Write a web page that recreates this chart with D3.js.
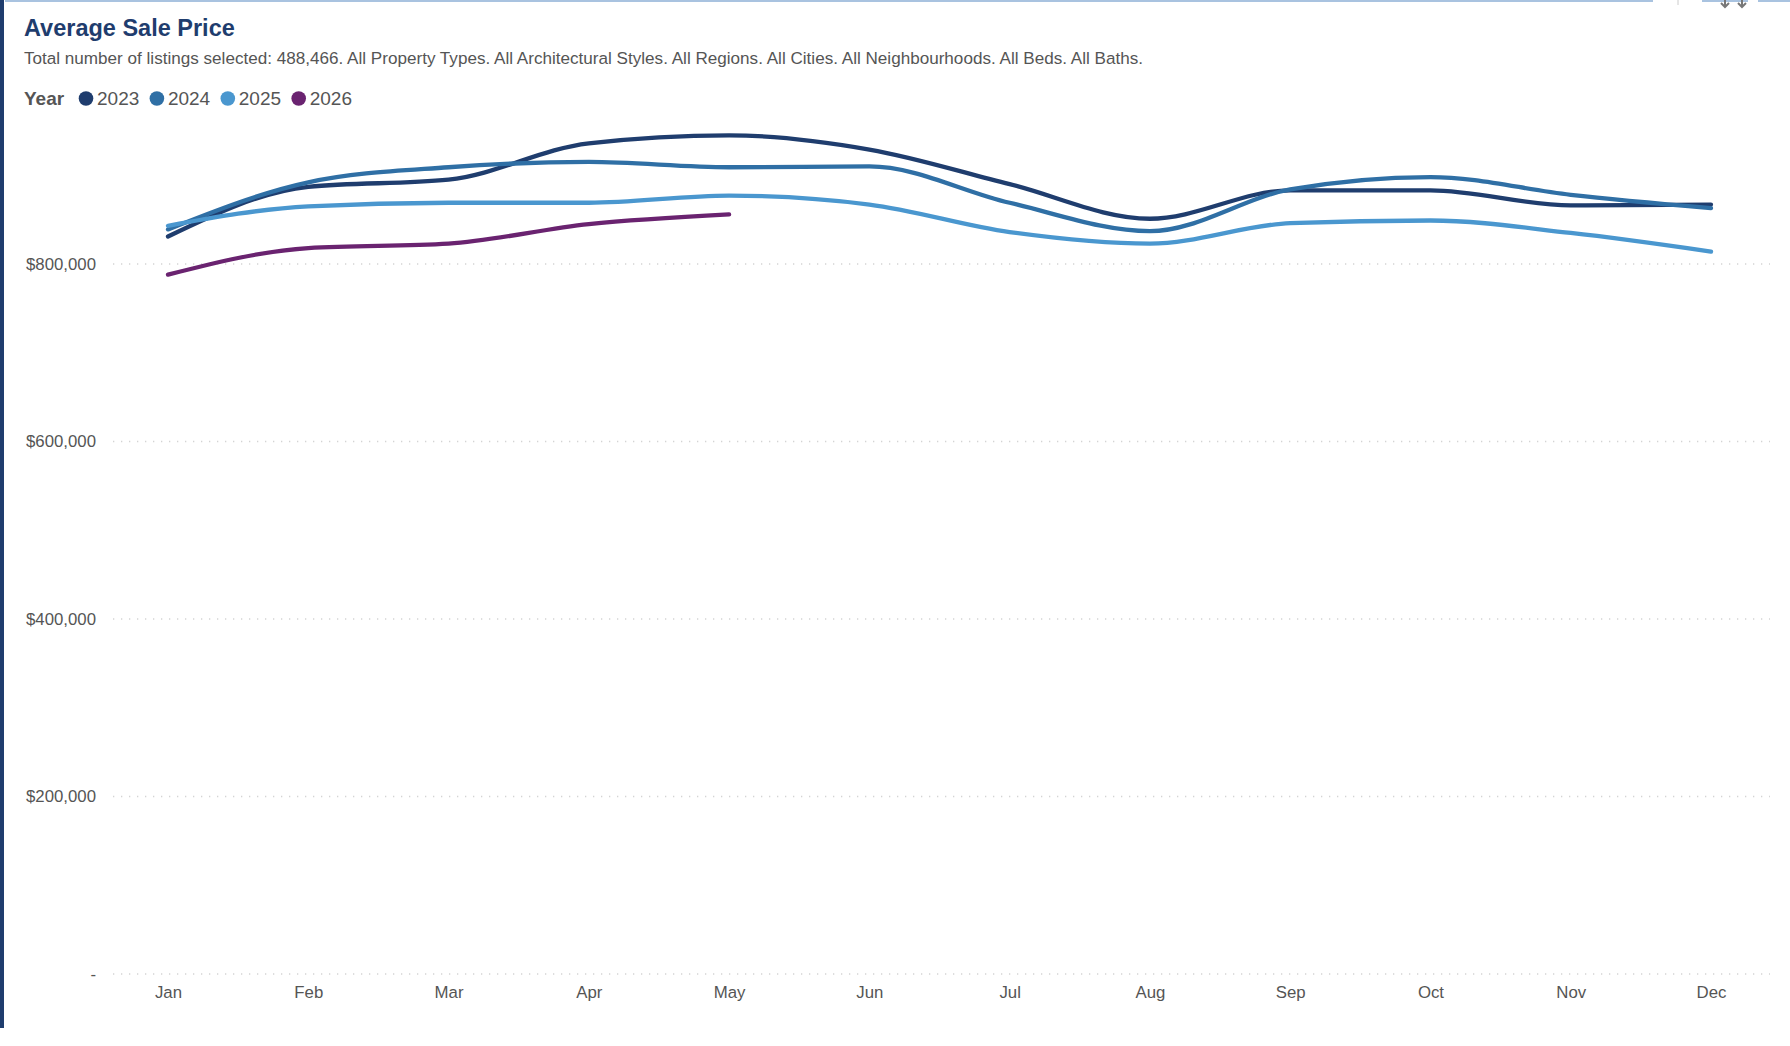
<!DOCTYPE html>
<html>
<head>
<meta charset="utf-8">
<script src="https://cdn.jsdelivr.net/npm/d3@7"></script>
<style>
    body { margin: 0; background: #ffffff; }
    svg { display: block; font-family: 'Liberation Sans', Arial, sans-serif; }
</style>
</head>
<body>
<svg></svg>
<script>
// the data
let months = ['Jan', 'Feb', 'Mar', 'Apr', 'May', 'Jun', 'Jul', 'Aug', 'Sep', 'Oct', 'Nov', 'Dec']
let years = ['2023', '2024', '2025', '2026']
let values2023 = [831000, 887000, 895000, 936000, 945000, 929000, 890000, 851000, 883000, 883000, 866000, 867000]
let values2024 = [839000, 892000, 909000, 915000, 909000, 910000, 869000, 837000, 884000, 898000, 878000, 863000]
let values2025 = [843000, 865000, 869000, 869000, 877000, 867000, 836000, 823000, 846000, 849000, 835000, 814000]
let values2026 = [788000, 818000, 823000, 845000, 856000]
let yTicks = [0, 200000, 400000, 600000, 800000]

let colors = ['#1f3d6e', '#2f6fa5', '#4a97cf', '#6a2370']

// dimensions of our canvas
let width = 1790
let height = 1046

let svg = d3.select('svg')

let xScale
let yScale

let drawCanvas = () => {
    svg.attr('width', width)
    svg.attr('height', height)

    // dark bar on the left edge
    svg.append('rect')
        .attr('x', 0)
        .attr('y', 0)
        .attr('width', 4)
        .attr('height', 1028)
        .attr('fill', '#1f3d6e')

    // thin light blue border at the top, broken where the icons sit
    let topLine = [[5, 1653], [1702, 1748], [1758, 1790]]
    topLine.forEach((seg) => {
        svg.append('line')
            .attr('x1', seg[0]).attr('x2', seg[1])
            .attr('y1', 1).attr('y2', 1)
            .attr('stroke', '#a9c3e0')
            .attr('stroke-width', 2)
    })
    svg.append('line')
        .attr('x1', 1678).attr('x2', 1678)
        .attr('y1', 0).attr('y2', 5)
        .attr('stroke', '#cccccc')
    ;[1725, 1742].forEach((cx) => {
        svg.append('path')
            .attr('d', 'M' + cx + ',0 L' + cx + ',7 M' + (cx - 4) + ',3 L' + cx + ',7 L' + (cx + 4) + ',3')
            .attr('stroke', '#777777')
            .attr('stroke-width', 2)
            .attr('fill', 'none')
    })
}

let drawTitles = () => {
    svg.append('text')
        .attr('x', 24)
        .attr('y', 36)
        .attr('font-size', 23.5)
        .attr('font-weight', 'bold')
        .attr('fill', '#1f3d6e')
        .text('Average Sale Price')

    svg.append('text')
        .attr('x', 24)
        .attr('y', 64)
        .attr('font-size', 17.1)
        .attr('fill', '#555555')
        .text('Total number of listings selected: 488,466. All Property Types. All Architectural Styles. All Regions. All Cities. All Neighbourhoods. All Beds. All Baths.')

    // legend
    svg.append('text')
        .attr('x', 24)
        .attr('y', 105)
        .attr('font-size', 19)
        .attr('font-weight', 'bold')
        .attr('fill', '#555555')
        .text('Year')

    let legend = svg.append('g')
    years.forEach((year, i) => {
        let x = 86 + i * 70.9
        legend.append('circle')
            .attr('cx', x)
            .attr('cy', 98.5)
            .attr('r', 7.3)
            .attr('fill', colors[i])
        legend.append('text')
            .attr('x', x + 11)
            .attr('y', 105)
            .attr('font-size', 19)
            .attr('fill', '#555555')
            .text(year)
    })
}

let generateScales = () => {
    xScale = d3.scalePoint()
        .domain(months)
        .range([168, 1711])

    yScale = d3.scaleLinear()
        .domain([0, 1000000])
        .range([974, 86.5])
}

let generateAxes = () => {
    // y labels
    let yAxis = d3.axisLeft(yScale)
        .tickValues(yTicks)
        .tickSize(0)
        .tickPadding(17)
        .tickFormat((d) => d === 0 ? '-' : d3.format('$,')(d))

    let yg = svg.append('g')
        .attr('transform', 'translate(113, 0)')
        .call(yAxis)
    yg.select('.domain').remove()
    yg.selectAll('text')
        .attr('font-size', 16.8)
        .attr('font-family', "'Liberation Sans', Arial, sans-serif")
        .attr('fill', '#555555')

    // dotted gridlines
    svg.append('g')
        .selectAll('line')
        .data(yTicks)
        .enter()
        .append('line')
        .attr('x1', 113)
        .attr('x2', 1770)
        .attr('y1', (d) => yScale(d))
        .attr('y2', (d) => yScale(d))
        .attr('stroke', '#d4d4d4')
        .attr('stroke-width', 1.3)
        .attr('stroke-dasharray', '1.3,6.7')

    let xAxis = d3.axisBottom(xScale)
        .tickSize(0)
        .tickPadding(12)

    let xg = svg.append('g')
        .attr('transform', 'translate(0, 974)')
        .call(xAxis)
    xg.select('.domain').remove()
    xg.selectAll('text')
        .attr('font-size', 16.8)
        .attr('font-family', "'Liberation Sans', Arial, sans-serif")
        .attr('fill', '#555555')
}

let drawLines = () => {
    let series = [values2023, values2024, values2025, values2026]

    let line = d3.line()
        .x((d, i) => xScale(months[i]))
        .y((d) => yScale(d))
        .curve(d3.curveMonotoneX)

    svg.append('g')
        .selectAll('path')
        .data(series)
        .enter()
        .append('path')
        .attr('d', (d) => line(d))
        .attr('fill', 'none')
        .attr('stroke', (d, i) => colors[i])
        .attr('stroke-width', 4.3)
        .attr('stroke-linecap', 'round')
        .attr('stroke-linejoin', 'round')
}

drawCanvas()
drawTitles()
generateScales()
generateAxes()
drawLines()
</script>
</body>
</html>
